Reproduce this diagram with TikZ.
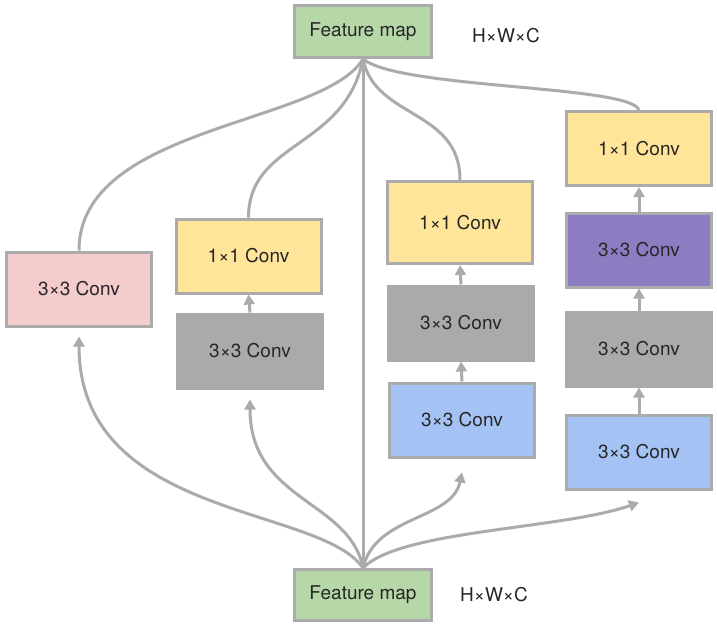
\documentclass[tikz,border=0pt]{standalone}
\usepackage{fontspec}
\setmainfont{TeX Gyre Heros}
\usetikzlibrary{arrows.meta}

\definecolor{fmgreen}{HTML}{B6D7A8}
\definecolor{convpink}{HTML}{F4CCCC}
\definecolor{convyellow}{HTML}{FFE599}
\definecolor{convgray}{HTML}{AAAAAA}
\definecolor{convblue}{HTML}{A4C2F4}
\definecolor{convpurple}{HTML}{8E7CC3}
\definecolor{edgegray}{HTML}{ABABAB}

\tikzset{
    box/.style={draw=edgegray, line width=3pt, minimum width=145pt, minimum height=74pt,
        inner sep=0pt, text=black!85, font=\fontsize{19}{21}\selectfont},
    link/.style={draw=edgegray, line width=3pt},
    arr/.style={link, -{Triangle[length=10pt,width=11pt]}}
}

\begin{document}
\begin{tikzpicture}[x=1pt,y=-1pt]
    \useasboundingbox (0,0) rectangle (717,626);

    % feature maps
    \node[box, fill=fmgreen, minimum width=137pt, minimum height=52pt] (top) at (363,31.5) {Feature map};
    \node[box, fill=fmgreen, minimum width=137pt, minimum height=51pt] (bot) at (363,595) {Feature map};
    \node[font=\fontsize{19}{21}\selectfont, text=black!85] (toplbl) at (506,36) {H×W×C};
    \node[font=\fontsize{19}{21}\selectfont, text=black!85] (botlbl) at (494,595) {H×W×C};

    % branches
    \node[box, fill=convpink] (c1) at (79,289) {3×3 Conv};
    \node[box, fill=convgray, draw=convgray] (c2a) at (250,351) {3×3 Conv};
    \node[box, fill=convyellow] (c2b) at (248.5,256) {1×1 Conv};
    \node[box, fill=convblue] (c3a) at (462,420) {3×3 Conv};
    \node[box, fill=convgray, draw=convgray] (c3b) at (461,323) {3×3 Conv};
    \node[box, fill=convyellow, minimum height=82pt] (c3c) at (460,222.5) {1×1 Conv};
    \node[box, fill=convblue] (c4a) at (639,452) {3×3 Conv};
    \node[box, fill=convgray, draw=convgray] (c4b) at (639,349) {3×3 Conv};
    \node[box, fill=convpurple] (c4c) at (639,250) {3×3 Conv};
    \node[box, fill=convyellow] (c4d) at (639,148.5) {1×1 Conv};

    \foreach \lo/\hi in {c2a/c2b, c3a/c3b, c3b/c3c, c4a/c4b, c4b/c4c, c4c/c4d}
        \draw[arr] (\lo.north) -- (\hi.south);

    % inputs
    \coordinate (in1) at ([yshift=-9pt]c1.south);
    \coordinate (in2) at ([yshift=-10pt]c2a.south);
    \coordinate (in3) at ([yshift=-14pt]c3a.south);
    \coordinate (in4) at ([yshift=-12pt]c4a.south);

    \draw[link] (bot.north) -- (top.south);
    \draw[arr] (bot.north) .. controls +(-43,-63) and +(0,183) .. (in1);
    \draw[arr] (bot.north) .. controls +(-13,-68) and +(0,102) .. (in2);
    \draw[arr] (bot.north) .. controls +(12,-53) and +(-10,48) .. (in3);
    \draw[arr] (bot.north) .. controls +(37,-38) and +(-78,27) .. (in4);

    % outputs
    \draw[link] (c1.north) .. controls +(0,-125) and +(-40,66) .. (top.south);
    \draw[link] (c2b.north) .. controls +(0,-77) and +(-18,90) .. (top.south);
    \draw[link] (c3c.north) .. controls +(0,-71) and +(12,60) .. (top.south);
    \draw[link] (c4d.north) .. controls +(-9,-25) and +(37,30) .. (top.south);
\end{tikzpicture}
\end{document}
